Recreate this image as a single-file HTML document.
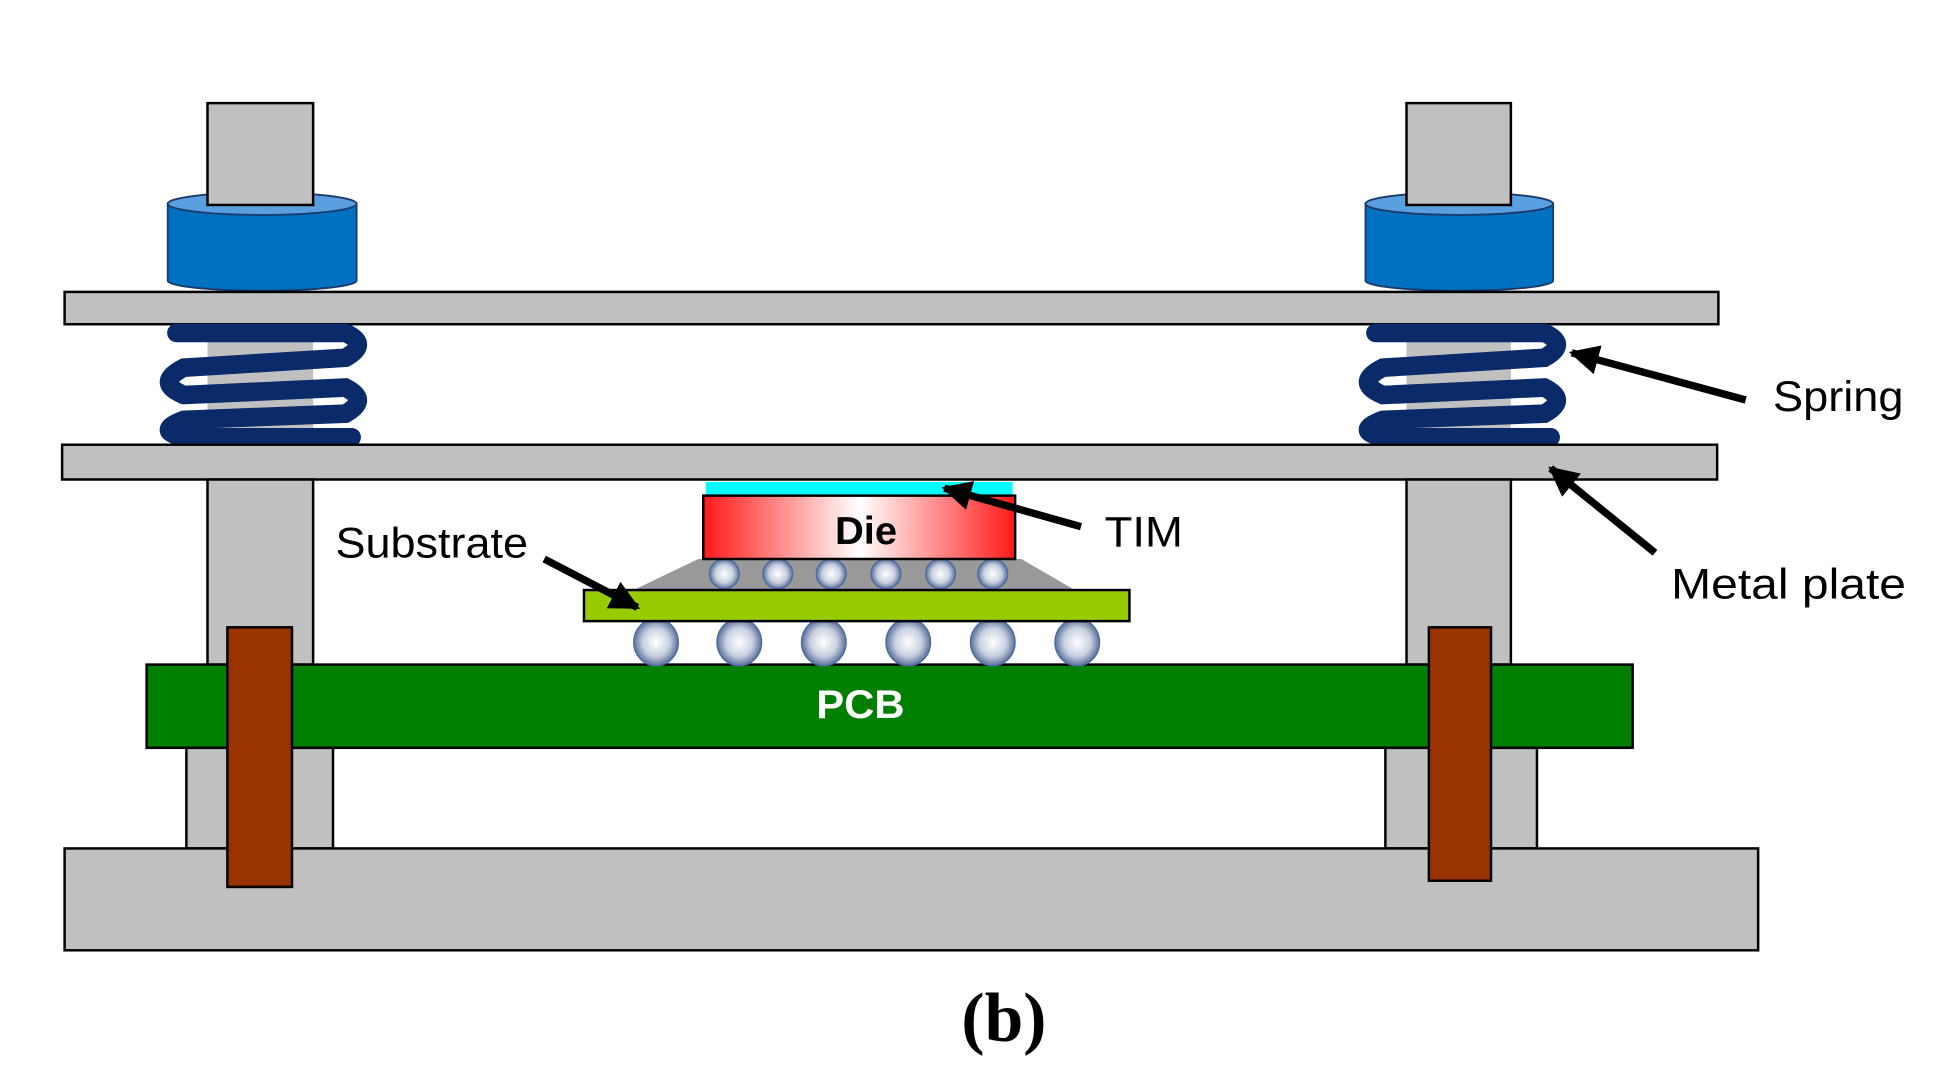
<!DOCTYPE html>
<html><head><meta charset="utf-8"><style>html,body{margin:0;padding:0;background:#fff}svg{display:block}</style></head>
<body>
<svg width="1947" height="1077" viewBox="0 0 1567 867" preserveAspectRatio="none" xmlns="http://www.w3.org/2000/svg">
<defs>
<linearGradient id="die" x1="0" x2="1" y1="0" y2="0">
<stop offset="0" stop-color="#ff1a1a"/><stop offset="0.5" stop-color="#ffffff"/><stop offset="1" stop-color="#ff1a1a"/></linearGradient>
<radialGradient id="ball" cx="0.5" cy="0.5" r="0.5">
<stop offset="0" stop-color="#ffffff"/><stop offset="0.6" stop-color="#c8d0e0"/><stop offset="1" stop-color="#5a6f9a"/></radialGradient>
<marker id="ah" viewBox="0 0 10 10" refX="9" refY="5" markerWidth="4" markerHeight="4" orient="auto"><path d="M0,0 L10,5 L0,10 z" fill="#000"/></marker>
</defs>
<g stroke="#000" stroke-width="2">
<g stroke="#1a3a6a" stroke-width="1.5">
<path d="M135 164 L135 226 A76 8 0 0 0 287 226 L287 164 Z" fill="#0070c0"/>
<ellipse cx="211" cy="164" rx="76" ry="9" fill="#5aa0e0"/>
<path d="M1099 164 L1099 226 A75.5 8 0 0 0 1250 226 L1250 164 Z" fill="#0070c0"/>
<ellipse cx="1174.5" cy="164" rx="75.5" ry="9" fill="#5aa0e0"/>
</g>
<rect x="167" y="83" width="85" height="82" fill="#c0c0c0"/>
<rect x="1132" y="83" width="84" height="82" fill="#c0c0c0"/>
<rect x="167" y="261" width="85" height="97" fill="#c0c0c0" stroke="none"/>
<rect x="1132" y="261" width="84" height="97" fill="#c0c0c0" stroke="none"/>
<rect x="52" y="235" width="1331" height="26" fill="#c0c0c0"/>
</g>
<g fill="none" stroke="#0b2a6a" stroke-width="15" stroke-linecap="round">
<path d="M142 268 L278 268 Q298 277 278 288 L148 296 Q124 308 148 318 L278 312 Q298 322 278 333 L148 338 Q124 347 148 352 L283 352"/>
<path d="M1107 268 L1243 268 Q1263 277 1243 288 L1113 296 Q1089 308 1113 318 L1243 312 Q1263 322 1243 333 L1113 338 Q1089 347 1113 352 L1248 352"/>
</g>
<g stroke="#000" stroke-width="2">
<rect x="50" y="358" width="1332" height="28" fill="#c0c0c0"/>
<rect x="167" y="386" width="85" height="149" fill="#c0c0c0"/>
<rect x="1132" y="386" width="84" height="149" fill="#c0c0c0"/>
<rect x="150" y="602" width="118" height="81" fill="#c0c0c0"/>
<rect x="1115" y="602" width="122" height="81" fill="#c0c0c0"/>
<rect x="52" y="683" width="1363" height="82" fill="#c0c0c0"/>
<rect x="118" y="535" width="1196" height="67" fill="#007f00"/>
<rect x="183" y="505" width="52" height="209" fill="#993300"/>
<rect x="1150" y="505" width="50" height="204" fill="#993300"/>
</g>
<polygon points="562,450 822,450 865,475 510,475" fill="#999"/>
<rect x="568" y="388" width="247" height="11" fill="#00ffff"/>
<g fill="url(#ball)" stroke="#4a6aa0" stroke-width="1">
<circle cx="583" cy="462" r="12"/><circle cx="626" cy="462" r="12"/><circle cx="669" cy="462" r="12"/>
<circle cx="713" cy="462" r="12"/><circle cx="757" cy="462" r="12"/><circle cx="799" cy="462" r="12"/>
<ellipse cx="528" cy="517" rx="18" ry="19"/><ellipse cx="595" cy="517" rx="18" ry="19"/><ellipse cx="663" cy="517" rx="18" ry="19"/>
<ellipse cx="731" cy="517" rx="18" ry="19"/><ellipse cx="799" cy="517" rx="18" ry="19"/><ellipse cx="867" cy="517" rx="18" ry="19"/>
</g>
<rect x="566" y="399" width="251" height="51" fill="url(#die)" stroke="#000" stroke-width="2"/>
<rect x="470" y="475" width="439" height="25" fill="#99cc00" stroke="#000" stroke-width="2"/>
<g stroke="#000" stroke-width="6" marker-end="url(#ah)">
<line x1="1405" y1="322" x2="1265" y2="284"/>
<line x1="1332" y1="445" x2="1248" y2="377"/>
<line x1="870" y1="424" x2="760" y2="393"/>
<line x1="438" y1="450" x2="513" y2="489"/>
</g>
<g font-family="Liberation Sans, sans-serif" font-size="34" fill="#000">
<text x="270" y="449" textLength="155" lengthAdjust="spacingAndGlyphs">Substrate</text>
<text x="889" y="440" textLength="63" lengthAdjust="spacingAndGlyphs">TIM</text>
<text x="1427" y="331" textLength="105" lengthAdjust="spacingAndGlyphs">Spring</text>
<text x="1345" y="482" textLength="189" lengthAdjust="spacingAndGlyphs">Metal plate</text>
<text x="672" y="438" font-weight="bold" font-size="31" textLength="50" lengthAdjust="spacingAndGlyphs">Die</text>
<text x="657" y="578" font-weight="bold" font-size="32" fill="#fff" textLength="71" lengthAdjust="spacingAndGlyphs">PCB</text>
</g>
<text x="808" y="838" font-family="Liberation Serif, serif" font-weight="bold" font-size="56" text-anchor="middle">(b)</text>
</svg>
</body></html>
